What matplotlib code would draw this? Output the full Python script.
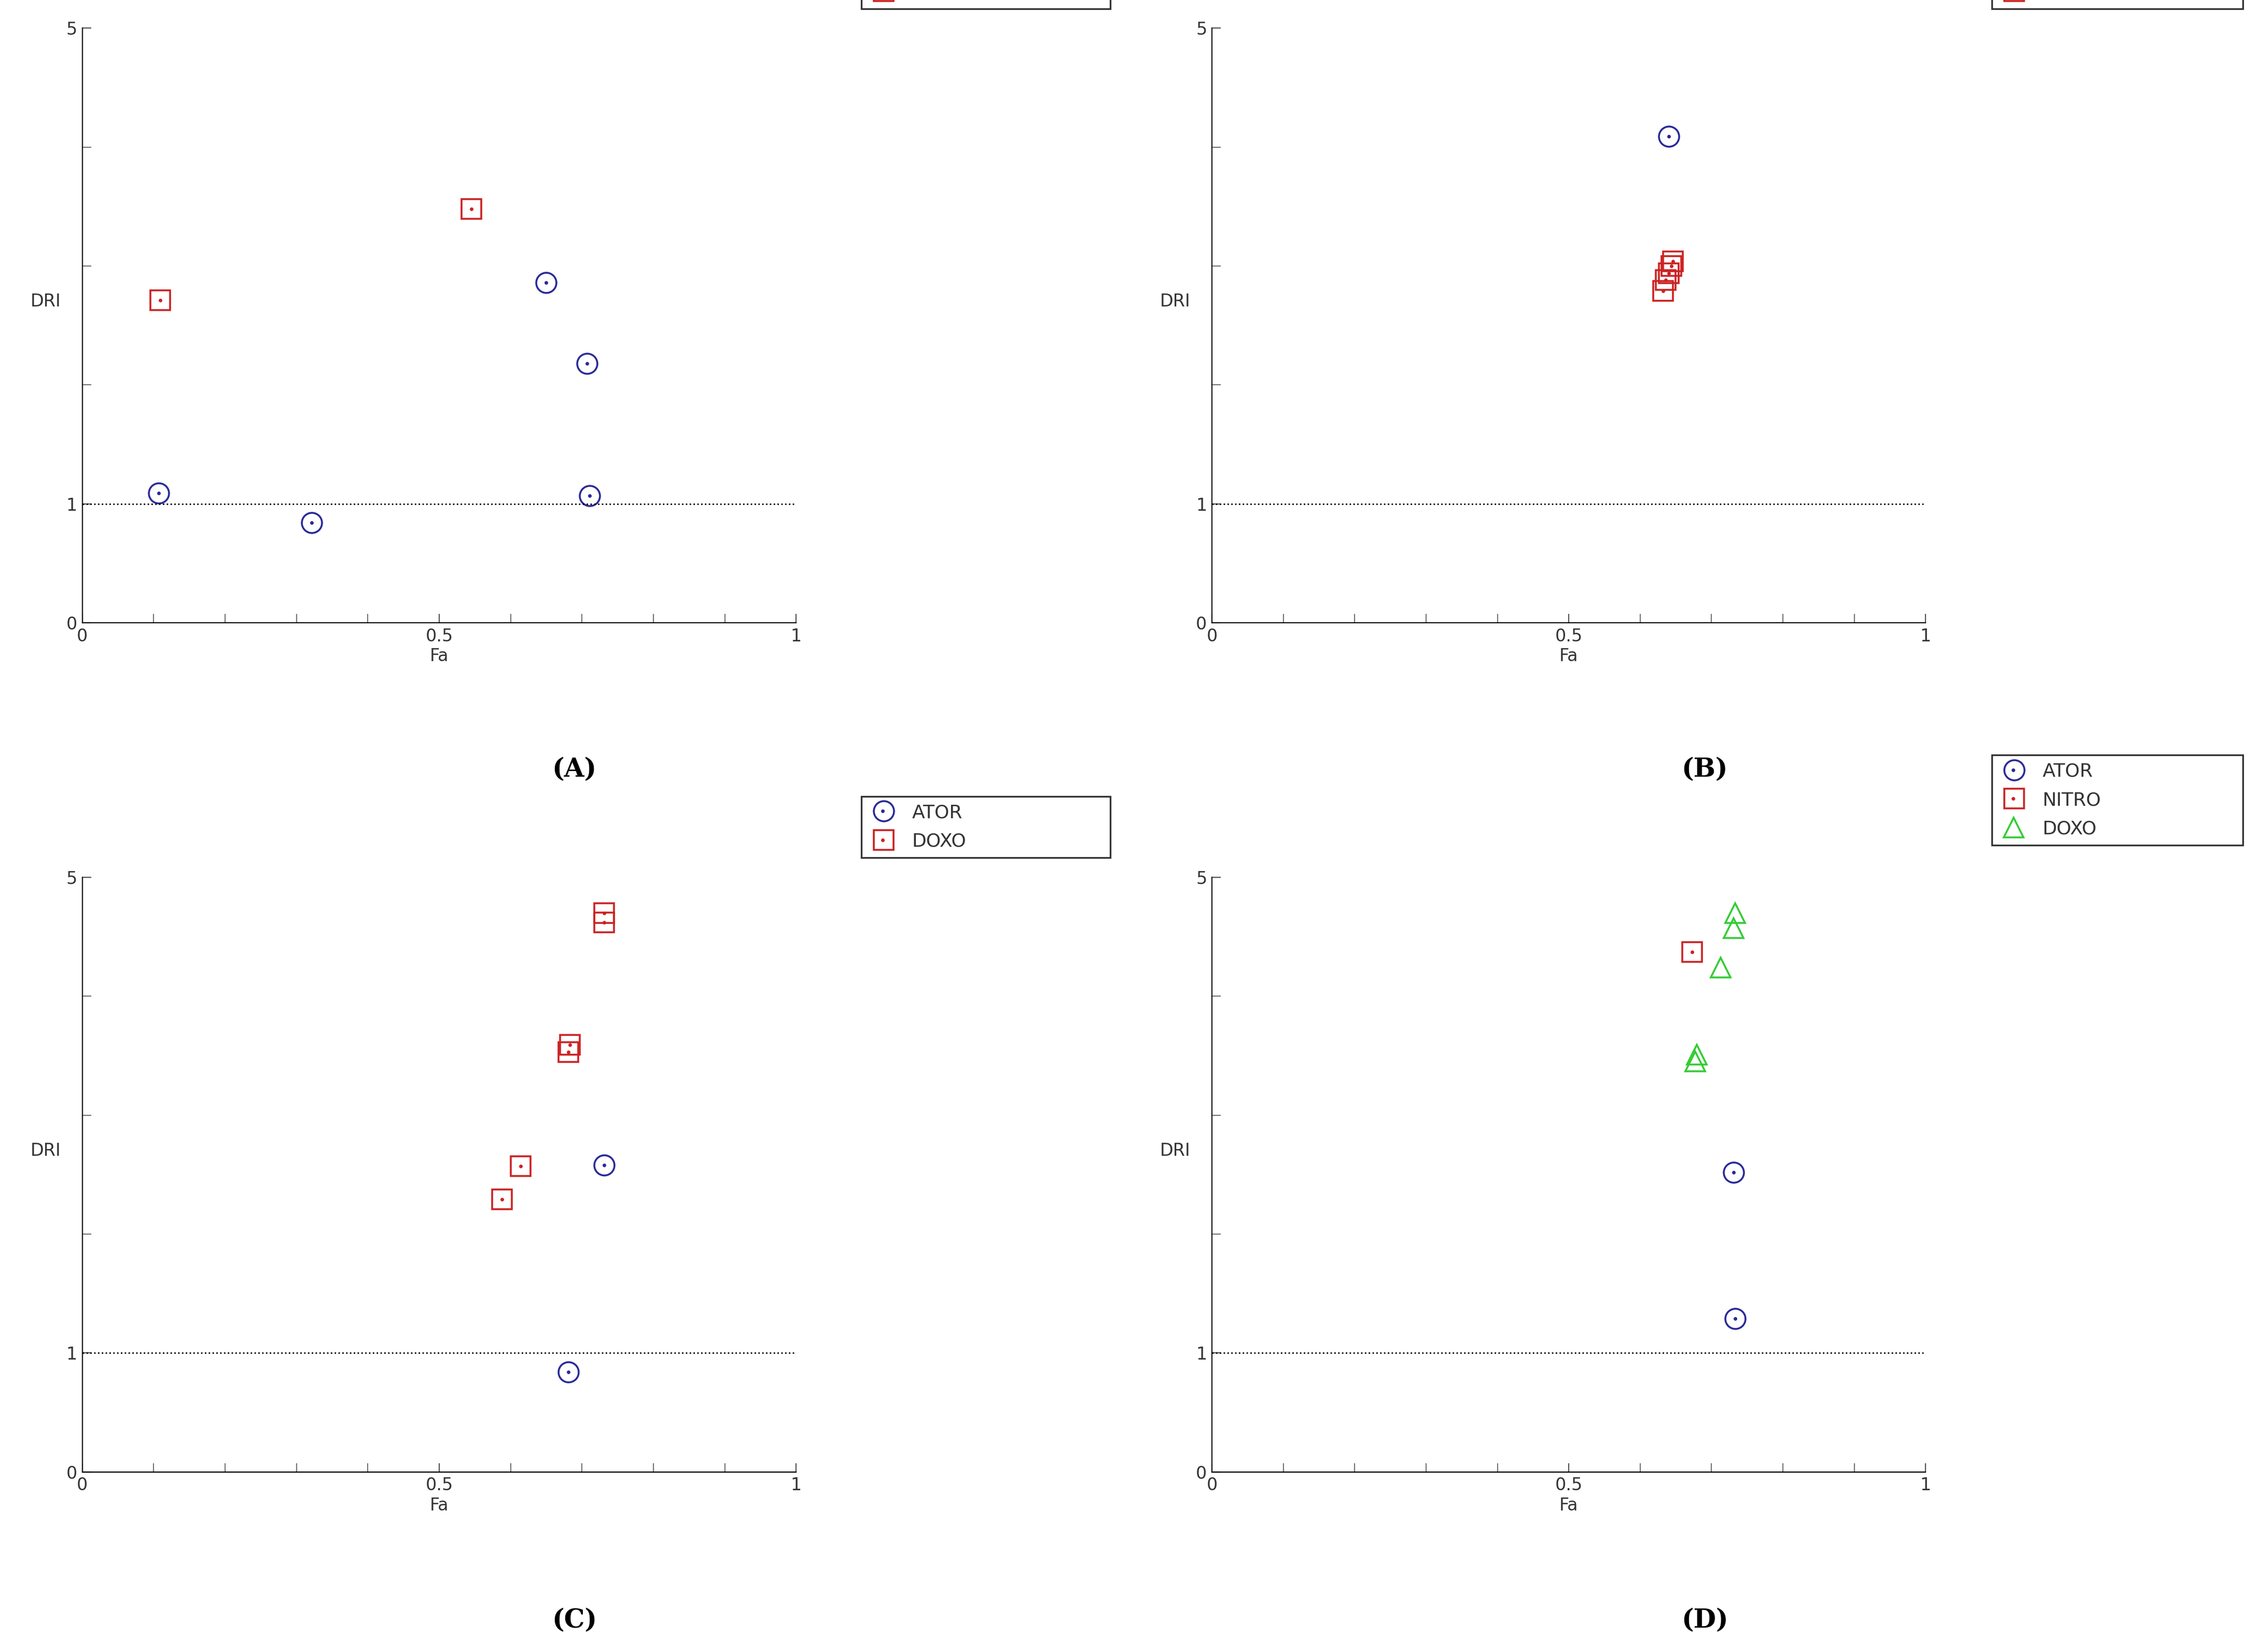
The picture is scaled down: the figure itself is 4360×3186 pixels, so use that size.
import matplotlib.pyplot as plt
from matplotlib.legend_handler import HandlerTuple
from matplotlib.lines import Line2D

# panel data (Fa, DRI plotted on a linear 0-5 position scale)
a_ator_fa = [0.107, 0.321, 0.650, 0.707, 0.711]
a_ator_dri = [1.09, 0.84, 2.86, 2.18, 1.07]
a_nitro_fa = [0.109, 0.545]
a_nitro_dri = [2.71, 3.48]

b_nitro_fa = [0.640]
b_nitro_dri = [4.09]
b_doxo_fa = [0.632, 0.636, 0.640, 0.644, 0.646]
b_doxo_dri = [2.79, 2.88, 2.94, 3.00, 3.04]

c_ator_fa = [0.731, 0.681]
c_ator_dri = [2.58, 0.84]
c_doxo_fa = [0.731, 0.731, 0.683, 0.681, 0.614, 0.588]
c_doxo_dri = [4.70, 4.62, 3.59, 3.53, 2.57, 2.29]

d_ator_fa = [0.731, 0.733]
d_ator_dri = [2.52, 1.29]
d_nitro_fa = [0.673]
d_nitro_dri = [4.37]
d_doxo_fa = [0.733, 0.731, 0.713, 0.679, 0.677]
d_doxo_dri = [4.70, 4.57, 4.24, 3.51, 3.45]

BLUE = "#2a2a9a"
RED = "#cc2222"
GREEN = "#33cc33"
TXT = "#333333"

fig = plt.figure(figsize=(21.8, 15.93), dpi=200)
plt.rcParams['font.family'] = ['DejaVu Sans']


def series(ax, fa, dri, marker, color, dot=True):
    ax.plot(fa, dri, linestyle="none", marker=marker, markersize=14,
            markerfacecolor="none", markeredgecolor=color, markeredgewidth=1.3)
    if dot:
        ax.plot(fa, dri, linestyle="none", marker=".", markersize=3, color=color)


def handle(marker, color, dot=True):
    h = Line2D([], [], linestyle="none", marker=marker, markersize=14,
               markerfacecolor="none", markeredgecolor=color, markeredgewidth=1.3)
    if dot:
        d = Line2D([], [], linestyle="none", marker=".", markersize=3, color=color)
        return (h, d)
    return (h,)


def panel(rect, data, legend_rect, letter, letter_pos):
    ax = fig.add_axes(rect)
    for fa, dri, marker, color, dot, _ in data:
        series(ax, fa, dri, marker, color, dot)
    ax.axhline(1, color="black", linestyle=":", linewidth=1)
    ax.set_xlim(0, 1)
    ax.set_ylim(0, 5)
    ax.set_xticks([0, 0.5, 1])
    ax.set_xticklabels(["0", "0.5", "1"])
    ax.set_xticks([i / 10 for i in range(11)], minor=True)
    ax.set_yticks([0, 1, 5])
    ax.set_yticks([2, 3, 4], minor=True)
    ax.tick_params(which="both", direction="in", length=6, labelsize=12,
                   labelcolor=TXT, color="#555555")
    for s in ["top", "right"]:
        ax.spines[s].set_visible(False)
    ax.set_xlabel("Fa", fontsize=12, color=TXT, labelpad=2)
    ax.text(-0.03, 2.7, "DRI", transform=ax.get_yaxis_transform(),
            ha="right", va="center", fontsize=12, color=TXT)
    labels = [d[5] for d in data]
    handles = [handle(d[2], d[3], d[4]) for d in data]
    lg = fig.legend(handles, labels, loc="upper left",
                    bbox_to_anchor=legend_rect, mode="expand",
                    handler_map={tuple: HandlerTuple(ndivide=None, pad=-1.6)},
                    fontsize=13, fancybox=False, edgecolor="black",
                    borderaxespad=0, handlelength=1.5, labelspacing=0.6)
    lg.get_frame().set_linewidth(1.2)
    for t in lg.get_texts():
        t.set_color(TXT)
    fig.text(letter_pos[0], letter_pos[1], "(" + letter + ")", fontsize=18,
             family="serif", weight="bold", ha="center", va="center")
    return ax


panel([0.0364, 0.623, 0.3157, 0.360],
      [(a_ator_fa, a_ator_dri, "o", BLUE, True, "ATOR"),
       (a_nitro_fa, a_nitro_dri, "s", RED, True, "NITRO")],
      (0.381, 0.972, 0.110, 0.06), "A", (0.254, 0.534))
panel([0.536, 0.623, 0.3157, 0.360],
      [(b_nitro_fa, b_nitro_dri, "o", BLUE, True, "NITRO"),
       (b_doxo_fa, b_doxo_dri, "s", RED, True, "DOXO")],
      (0.881, 0.972, 0.111, 0.06), "B", (0.754, 0.534))
panel([0.0364, 0.109, 0.3157, 0.360],
      [(c_ator_fa, c_ator_dri, "o", BLUE, True, "ATOR"),
       (c_doxo_fa, c_doxo_dri, "s", RED, True, "DOXO")],
      (0.381, 0.458, 0.110, 0.06), "C", (0.254, 0.019))
panel([0.536, 0.109, 0.3157, 0.360],
      [(d_ator_fa, d_ator_dri, "o", BLUE, True, "ATOR"),
       (d_nitro_fa, d_nitro_dri, "s", RED, True, "NITRO"),
       (d_doxo_fa, d_doxo_dri, "^", GREEN, False, "DOXO")],
      (0.881, 0.458, 0.111, 0.085), "D", (0.754, 0.019))

fig.savefig("out.png", dpi=200)
